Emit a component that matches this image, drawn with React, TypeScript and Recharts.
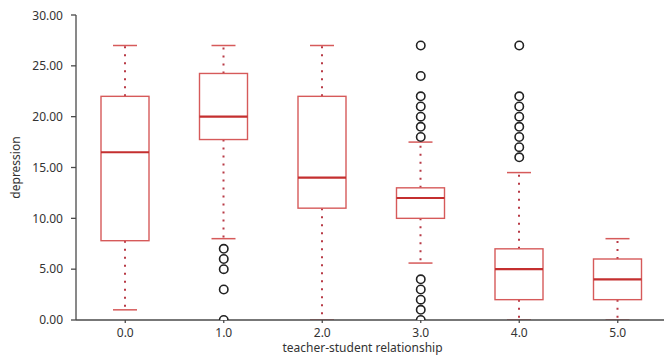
import { ComposedChart, Bar, Scatter, XAxis, YAxis } from 'recharts'

const categories = ['0.0', '1.0', '2.0', '3.0', '4.0', '5.0']
const whiskerLow = [1, 8, 0, 5.6, 0, 0]
const q1 = [7.8, 17.75, 11, 10, 2, 2]
const median = [16.5, 20, 14, 12, 5, 4]
const q3 = [22, 24.25, 22, 13, 7, 6]
const whiskerHigh = [27, 27, 27, 17.5, 14.5, 8]

// outliers per category
const outliers1 = [7, 6, 5, 3, 0]
const outliers3 = [27, 24, 22, 21, 20, 19, 18, 4, 3, 2, 1, 0]
const outliers4 = [27, 22, 21, 20, 19, 18, 17, 16]

const yTicks = [0, 5, 10, 15, 20, 25, 30]

const BOX = '#d65a5a'
const MEDIAN = '#c42f2f'
const DOTS = '#b83a46'
const AXIS = '#4a4a4a'
const FONT = '"Noto Sans", sans-serif'

const boxData = categories.map((cat, i) => ({
  cat,
  lo: whiskerLow[i],
  q1: q1[i],
  med: median[i],
  q3: q3[i],
  hi: whiskerHigh[i],
}))

const outlierData = [
  ...outliers1.map((v) => ({ cat: categories[1], v })),
  ...outliers3.map((v) => ({ cat: categories[3], v })),
  ...outliers4.map((v) => ({ cat: categories[4], v })),
]

const BoxShape = (props: any) => {
  const { x, y, width, height, payload } = props
  const top = Math.min(y, y + height)
  const bot = Math.max(y, y + height)
  const { lo, hi } = payload
  const ppu = (bot - top) / (hi - lo)
  const toY = (v: number) => bot - (v - lo) * ppu
  const cx = x + width / 2
  const capW = width / 2
  const yq1 = toY(payload.q1)
  const yq3 = toY(payload.q3)
  const ymed = toY(payload.med)
  return (
    <g>
      <line x1={cx} x2={cx} y1={yq3} y2={top} stroke={DOTS} strokeWidth={2} strokeDasharray="2 6" />
      <line x1={cx} x2={cx} y1={yq1} y2={bot} stroke={DOTS} strokeWidth={2} strokeDasharray="2 6" />
      <line x1={cx - capW / 2} x2={cx + capW / 2} y1={top} y2={top} stroke={BOX} strokeWidth={1.5} />
      <line x1={cx - capW / 2} x2={cx + capW / 2} y1={bot} y2={bot} stroke={BOX} strokeWidth={1.5} />
      <rect x={x} y={yq3} width={width} height={yq1 - yq3} fill="#fff" stroke={BOX} strokeWidth={1.4} />
      <line x1={x} x2={x + width} y1={ymed} y2={ymed} stroke={MEDIAN} strokeWidth={2.2} />
    </g>
  )
}

const Outlier = (props: any) => {
  const { cx, cy } = props
  return <circle cx={cx} cy={cy} r={4.2} fill="#fff" stroke="#222" strokeWidth={1.6} />
}

export default function App() {
  return (
    <ComposedChart
      width={664}
      height={353}
      data={boxData}
      margin={{ top: 7, right: 5, bottom: 0, left: 0 }}
      style={{ fontFamily: FONT }}
    >
      <XAxis
        dataKey="cat"
        type="category"
        allowDuplicatedCategory={false}
        height={41}
        stroke={AXIS}
        strokeWidth={1.3}
        tickSize={3}
        tickMargin={5}
        tick={{ fill: '#333', fontSize: 12, fontFamily: FONT }}
        label={{
          value: 'teacher-student relationship',
          position: 'insideBottom',
          offset: 9,
          dx: -9,
          style: { fill: '#333', fontSize: 12, fontFamily: FONT },
        }}
      />
      <YAxis
        type="number"
        domain={[0, 30]}
        ticks={yTicks}
        allowDataOverflow
        width={68}
        stroke={AXIS}
        strokeWidth={1.3}
        tickSize={5}
        tickMargin={8}
        tickFormatter={(v: number) => v.toFixed(2)}
        tick={{ fill: '#333', fontSize: 12, fontFamily: FONT }}
        label={{
          value: 'depression',
          angle: -90,
          position: 'center',
          dx: -26,
          style: { fill: '#333', fontSize: 12, fontFamily: FONT, textAnchor: 'middle' },
        }}
      />
      <Bar
        dataKey={(d: any) => [d.lo, d.hi]}
        barSize={48}
        shape={BoxShape}
        isAnimationActive={false}
      />
      <Scatter data={outlierData} dataKey="v" shape={Outlier} isAnimationActive={false} />
    </ComposedChart>
  )
}
